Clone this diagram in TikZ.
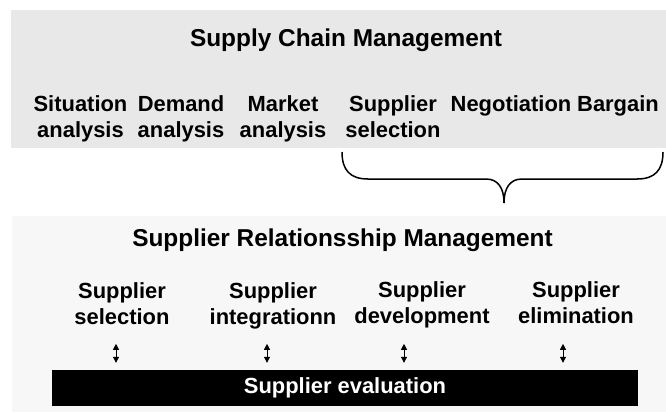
\documentclass[tikz,border=0pt]{standalone}
\usepackage{fontspec}
\setmainfont{Liberation Sans}
\usetikzlibrary{arrows.meta,calc}

\definecolor{scmfill}{HTML}{E8E8E8}
\definecolor{srmfill}{HTML}{F7F7F7}
\newcommand{\rowfont}{\bfseries\fontsize{22}{26}\selectfont}
\newcommand{\headfont}{\bfseries\fontsize{24.5}{28}\selectfont}

\begin{document}
\begin{tikzpicture}[x=1bp, y=-1bp, >={Triangle[length=6bp, width=6bp]}]
\newcommand{\tbox}[1][]{\node [#1, font=\rowfont, align=center, inner sep=0pt, anchor=base]}
\useasboundingbox (0,0) rectangle (666,412);
\fill [scmfill] (11,10) rectangle (666,148);
\fill [srmfill] (12,216) rectangle (666,412);

% base = last line
\node [font=\headfont, anchor=base, inner sep=0pt] (SCM) at (346,46) {Supply Chain Management};
\tbox (SA) at (80.5,137) {Situation\\analysis};
\tbox (DA) at (181,137) {Demand\\analysis};
\tbox (MA) at (283,137) {Market\\analysis};
\tbox (SS) at (393,137) {Supplier\\selection};
\tbox (NE) at (511,111) {Negotiation};
\tbox (BA) at (618,111) {Bargain};

\coordinate (BL) at (342,152);
\coordinate (BR) at (663,152);
\coordinate (BT) at (504,203);
\draw [line width=1.5bp]
  (BL) .. controls (342,170) and (350,179) .. (368,179) -- (486,179)
       .. controls (498,179) and (504,188) .. (BT)
       .. controls (504,188) and (510,179) .. (522,179) -- (637,179)
       .. controls (655,179) and (663,170) .. (BR);

\node [font=\headfont, anchor=base, inner sep=0pt] (SRM) at (342.5,246) {Supplier Relationsship Management};
\tbox (L1) at (122,324) {Supplier\\selection};
\tbox (L2) at (273,324) {Supplier\\integrationn};
\tbox (L3) at (422,323) {Supplier\\development};
\tbox (L4) at (576,323) {Supplier\\elimination};

\node [fill=black, text=white, font=\rowfont, minimum width=586bp, minimum height=36bp, inner sep=0pt] (EV) at (345,388) {Supplier evaluation};

\def\ah{19}
\foreach \n/\dx in {L1/-6, L2/-6, L3/-18, L4/-13}
  \draw [<->, line width=1bp] ($(EV.north -| \n.south)+(\dx,-7)$) -- ++(0,-\ah);
\end{tikzpicture}
\end{document}
